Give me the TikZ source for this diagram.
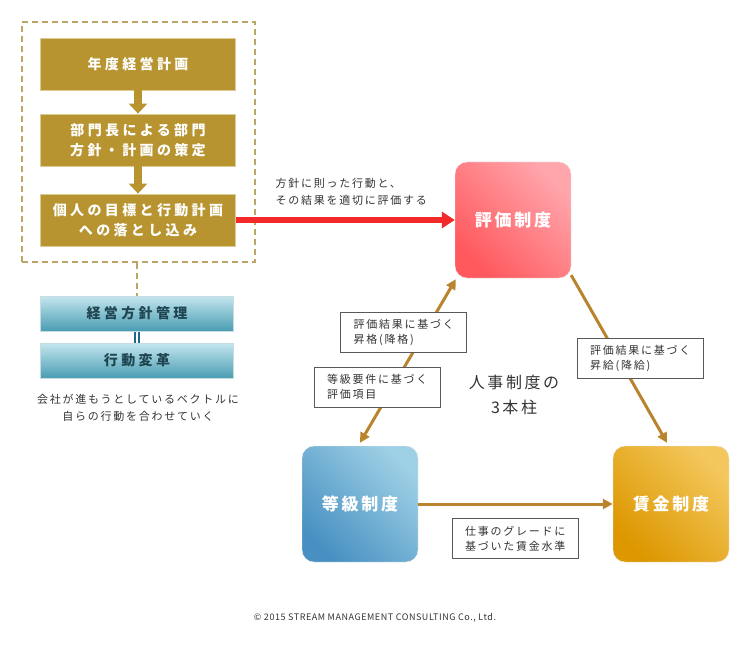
\documentclass[tikz,border=0pt]{standalone}
\usepackage{fontspec}
\setmainfont{Noto Sans CJK JP}[LetterSpace=16]
\newfontfamily\widejp{Noto Sans CJK JP}[LetterSpace=24]
\newfontfamily\creditfont{Noto Sans CJK JP}[LetterSpace=6]
\usepackage{tikz}
\usetikzlibrary{arrows.meta,positioning,calc}
\definecolor{goldplan}{HTML}{B7942F}
\definecolor{goldedge}{HTML}{DCCB95}
\definecolor{frametan}{HTML}{BDA566}
\definecolor{tealtop}{HTML}{C4E6EE}
\definecolor{tealmid}{HTML}{A2D5E0}
\definecolor{tealbottom}{HTML}{4A9DB3}
\definecolor{tealedge}{HTML}{C8DDE2}
\definecolor{tealtext}{HTML}{1F4551}
\definecolor{tealline}{HTML}{1B6A88}
\definecolor{redarrow}{HTML}{F32828}
\definecolor{brownarrow}{HTML}{B9842D}
\definecolor{evallight}{HTML}{FFA6AC}
\definecolor{evaldark}{HTML}{FF585D}
\definecolor{gradelight}{HTML}{9ED0E5}
\definecolor{gradedark}{HTML}{4890C2}
\definecolor{wagelight}{HTML}{F3C75C}
\definecolor{wagedark}{HTML}{DD9700}
\definecolor{textgray}{HTML}{333333}

\begin{document}
\begin{tikzpicture}[x=1pt, y=-1pt,
    plan_box/.style={draw=goldedge, fill=goldplan, line width=0.8pt, minimum width=195pt, minimum height=52pt, inner sep=0pt, font=\widejp\fontsize{14}{20}\selectfont\bfseries, text=white, align=center},
    frame_box/.style={draw=frametan, dashed, dash pattern=on 6pt off 4pt, line width=1.5pt, minimum width=233pt, minimum height=240pt},
    step_arrow/.style={-{Triangle[width=18pt,length=10pt]}, line width=8pt, draw=goldplan},
    teal_box/.style={draw=tealedge, top color=tealtop, middle color=tealmid, bottom color=tealbottom, line width=1pt, minimum width=193pt, minimum height=35pt, font=\widejp\fontsize{14}{16}\selectfont\bfseries, text=tealtext},
    pillar/.style 2 args={rounded corners=12pt, draw=white!85!gray, minimum width=116pt, minimum height=116pt, font=\fontsize{17}{20}\selectfont\bfseries, text=white, top color=#1, bottom color=#2, shading angle=-45},
    note/.style={draw=gray!70!black, fill=white, line width=0.8pt, font=\fontsize{11}{15}\selectfont, text=textgray, align=left, text width=100pt, inner xsep=13pt, minimum height=40pt},
    plain_text/.style={font=\fontsize{11}{17}\selectfont, text=textgray, align=center},
    link/.style={-{Triangle[width=10pt,length=10pt]}, line width=3pt, draw=brownarrow},
    eval_link/.style={-{Triangle[width=16pt,length=13pt]}, line width=6pt, draw=redarrow}
]
    \useasboundingbox (0,0) rectangle (750,650);

    % Planning cascade
    \node[frame_box] (plan_frame) at (138.5,142) {};
    \node[plan_box] (plan_year) at (138,64) {年度経営計画};
    \node[plan_box] (plan_dept) at (138,140) {部門長による部門\\方針・計画の策定};
    \node[plan_box] (plan_indiv) at (138,220) {個人の目標と行動計画\\への落とし込み};
    \draw[step_arrow] (plan_year.south) -- (plan_dept.north);
    \draw[step_arrow] (plan_dept.south) -- (plan_indiv.north);

    % Management by policy
    \node[teal_box] (mgmt) at (137,313.5) {経営方針管理};
    \node[teal_box] (change) at (137,360.5) {行動変革};
    \draw[frametan, dashed, dash pattern=on 6pt off 4pt, line width=1.5pt] (plan_frame.south -| mgmt.north) -- (mgmt.north);
    \draw[tealline, double, double distance=2pt, line width=2pt] (mgmt.south) -- (change.north);
    \node[plain_text] (vector_text) at (138,408) {会社が進もうとしているベクトルに\\自らの行動を合わせていく};

    % Three pillars
    \node[pillar={evallight}{evaldark}] (eval_sys) at (513,220) {評価制度};
    \node[pillar={gradelight}{gradedark}] (grade_sys) at (360,504) {等級制度};
    \node[pillar={wagelight}{wagedark}] (wage_sys) at (671,504) {賃金制度};
    \node[font=\fontsize{16}{25}\selectfont, text=textgray, align=center] (core) at (514,395) {人事制度の\\3本柱};

    % Evaluation flow
    \draw[eval_link] (plan_indiv.east) -- (eval_sys.west);
    \node[font=\fontsize{11}{17}\selectfont, text=textgray, align=left, anchor=west] (policy_text) at (272,192) {方針に則った行動と、\\その結果を適切に評価する};

    % Pillar connections
    \draw[link, {Triangle[width=10pt,length=10pt]}-{Triangle[width=10pt,length=10pt]}] ([yshift=3pt]grade_sys.north) -- ([xshift=1pt,yshift=-1pt]eval_sys.south west);
    \draw[link] ([yshift=3pt]eval_sys.south east) -- ([xshift=-4pt,yshift=3pt]wage_sys.north);
    \draw[link] (grade_sys.east) -- (wage_sys.west);

    % Connector notes
    \node[note] (promo_note) at (403.5,332) {評価結果に基づく\\昇格(降格)};
    \node[note] (grade_note) at (377,387) {等級要件に基づく\\評価項目};
    \node[note] (raise_note) at (640,358.5) {評価結果に基づく\\昇給(降給)};
    \node[note] (wage_note) at (515,538.5) {仕事のグレードに\\基づいた賃金水準};

    \node[font=\creditfont\fontsize{9}{11}\selectfont, text=textgray] (copyright) at (375,618) {© 2015 STREAM MANAGEMENT CONSULTING Co., Ltd.};
\end{tikzpicture}
\end{document}
